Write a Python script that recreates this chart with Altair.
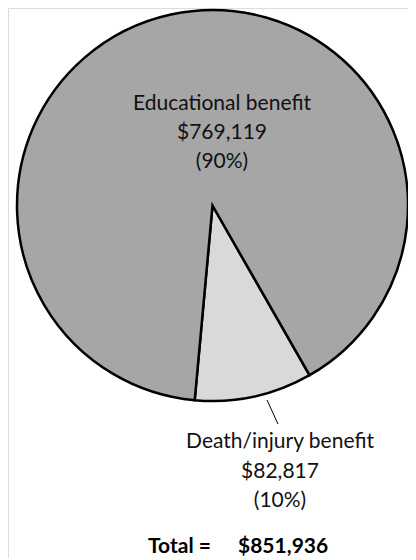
import altair as alt
import pandas as pd

categories = ["Death/injury benefit", "Educational benefit"]
amounts = [82817, 769119]
amount_labels = ["$82,817", "$769,119"]
pct_labels = ["(10%)", "(90%)"]
colors = ["#d9d9d9", "#a6a6a6"]
total_label = "$851,936"

df = pd.DataFrame({"category": categories, "amount": amounts, "order": [0, 1]})

CX, CY, R = 204.5, 197.5, 195.5
start = 2.622
FONT = "Lato"

pie = alt.Chart(df).mark_arc(outerRadius=R, stroke="black", strokeWidth=2.5).encode(
    theta=alt.Theta("amount:Q", stack=True, scale=alt.Scale(range=[start, start + 6.2832])),
    order=alt.Order("order:Q"),
    color=alt.Color("category:N", scale=alt.Scale(domain=categories, range=colors), legend=None),
    x=alt.value(CX),
    y=alt.value(CY),
)


def label(idx, x, y, spacing):
    txt = "\n".join([categories[idx], amount_labels[idx], pct_labels[idx]])
    return alt.Chart(pd.DataFrame({"t": [txt]})).mark_text(
        font=FONT, fontSize=21, align="center", baseline="alphabetic", color="#111111",
        lineBreak="\n", lineHeight=spacing,
    ).encode(text="t:N", x=alt.value(x), y=alt.value(y))


edu = label(1, 214, 102, 29)
death = label(0, 272, 440, 29.5)

leader = alt.Chart(df.head(1)).mark_rule(color="black", strokeWidth=1).encode(
    x=alt.value(259), y=alt.value(392), x2=alt.value(270), y2=alt.value(416)
)

tot1 = alt.Chart(pd.DataFrame({"t": ["Total ="]})).mark_text(
    font=FONT, fontSize=21, fontWeight="bold", align="left", baseline="alphabetic").encode(
    text="t:N", x=alt.value(140), y=alt.value(545))
tot2 = alt.Chart(pd.DataFrame({"t": [total_label]})).mark_text(
    font=FONT, fontSize=21, fontWeight="bold", align="left", baseline="alphabetic").encode(
    text="t:N", x=alt.value(230), y=alt.value(545))

chart = alt.layer(pie, leader, edu, death, tot1, tot2).properties(
    width=400, height=550, padding=0, autosize=alt.AutoSizeParams(type="none")
).configure_view(stroke=None).configure(background="white")

chart.save("out.html", embed_options={"renderer": "svg", "actions": False})
